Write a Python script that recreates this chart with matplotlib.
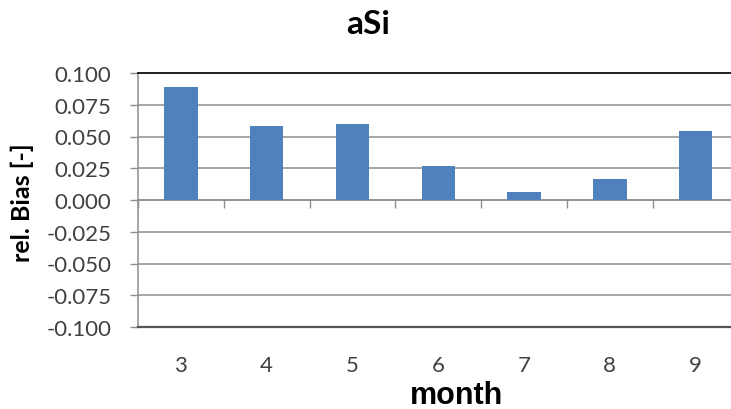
import matplotlib
matplotlib.use("Agg")
import matplotlib.pyplot as plt

# data
months = ["3", "4", "5", "6", "7", "8", "9"]
rel_bias = [0.0888, 0.058, 0.060, 0.0265, 0.006, 0.0163, 0.054]
y_ticks = [-0.100, -0.075, -0.050, -0.025, 0.000, 0.025, 0.050, 0.075, 0.100]
y_labels = ["-0.100", "-0.075", "-0.050", "-0.025", "0.000", "0.025", "0.050", "0.075", "0.100"]

plt.rcParams["font.family"] = ["Lato", "DejaVu Sans"]

W, H = 731, 410
fig = plt.figure(figsize=(W / 100, H / 100), dpi=100)
ax = fig.add_axes([138 / W, 82 / H, 600.5 / W, 254 / H])

pos = list(range(len(months)))
ax.bar(pos, rel_bias, width=0.39, color="#4f81bd", zorder=3)

ax.set_xlim(-0.5, len(months) - 0.5)
ax.set_ylim(-0.1, 0.1)

ax.set_yticks(y_ticks, labels=y_labels)
ax.yaxis.grid(True, color="#8e8e8e", lw=1.1, zorder=0)
ax.set_axisbelow(True)
ax.tick_params(axis="y", direction="out", length=6, width=1, color="#8e8e8e",
               pad=13, labelsize=16, labelcolor="#404040")

ax.set_xticks(pos, labels=months)
ax.tick_params(axis="x", length=0, pad=20, labelsize=16, labelcolor="#404040")

ax.spines["right"].set_visible(False)
ax.spines["top"].set_color("#202020")
ax.spines["top"].set_linewidth(1.4)
ax.spines["bottom"].set_color("#555555")
ax.spines["bottom"].set_linewidth(1.6)
ax.spines["left"].set_color("#8e8e8e")
ax.spines["left"].set_linewidth(1.1)

# category axis crossing at zero, ticks between categories
zero_ax = ax.secondary_xaxis(0, transform=ax.transData)
zero_ax.set_xticks([p - 0.5 for p in pos], labels=[])
zero_ax.tick_params(direction="out", length=6, width=1, color="#8e8e8e")
zero_ax.spines["bottom"].set_color("#8e8e8e")
zero_ax.spines["bottom"].set_linewidth(1.1)

fig.text(368 / W, 1 - 25 / H, "aSi", ha="center", va="center",
         fontsize=24, fontweight="bold")
fig.text(22 / W, 1 - 203 / H, "rel. Bias [-]", ha="center", va="center",
         rotation=90, fontsize=18, fontweight="bold")
fig.text(456 / W, 1 - 396 / H, "month", ha="center", va="center",
         fontsize=22, fontweight="bold", family=["Liberation Sans", "DejaVu Sans"])

fig.savefig("out.png", dpi=100)
